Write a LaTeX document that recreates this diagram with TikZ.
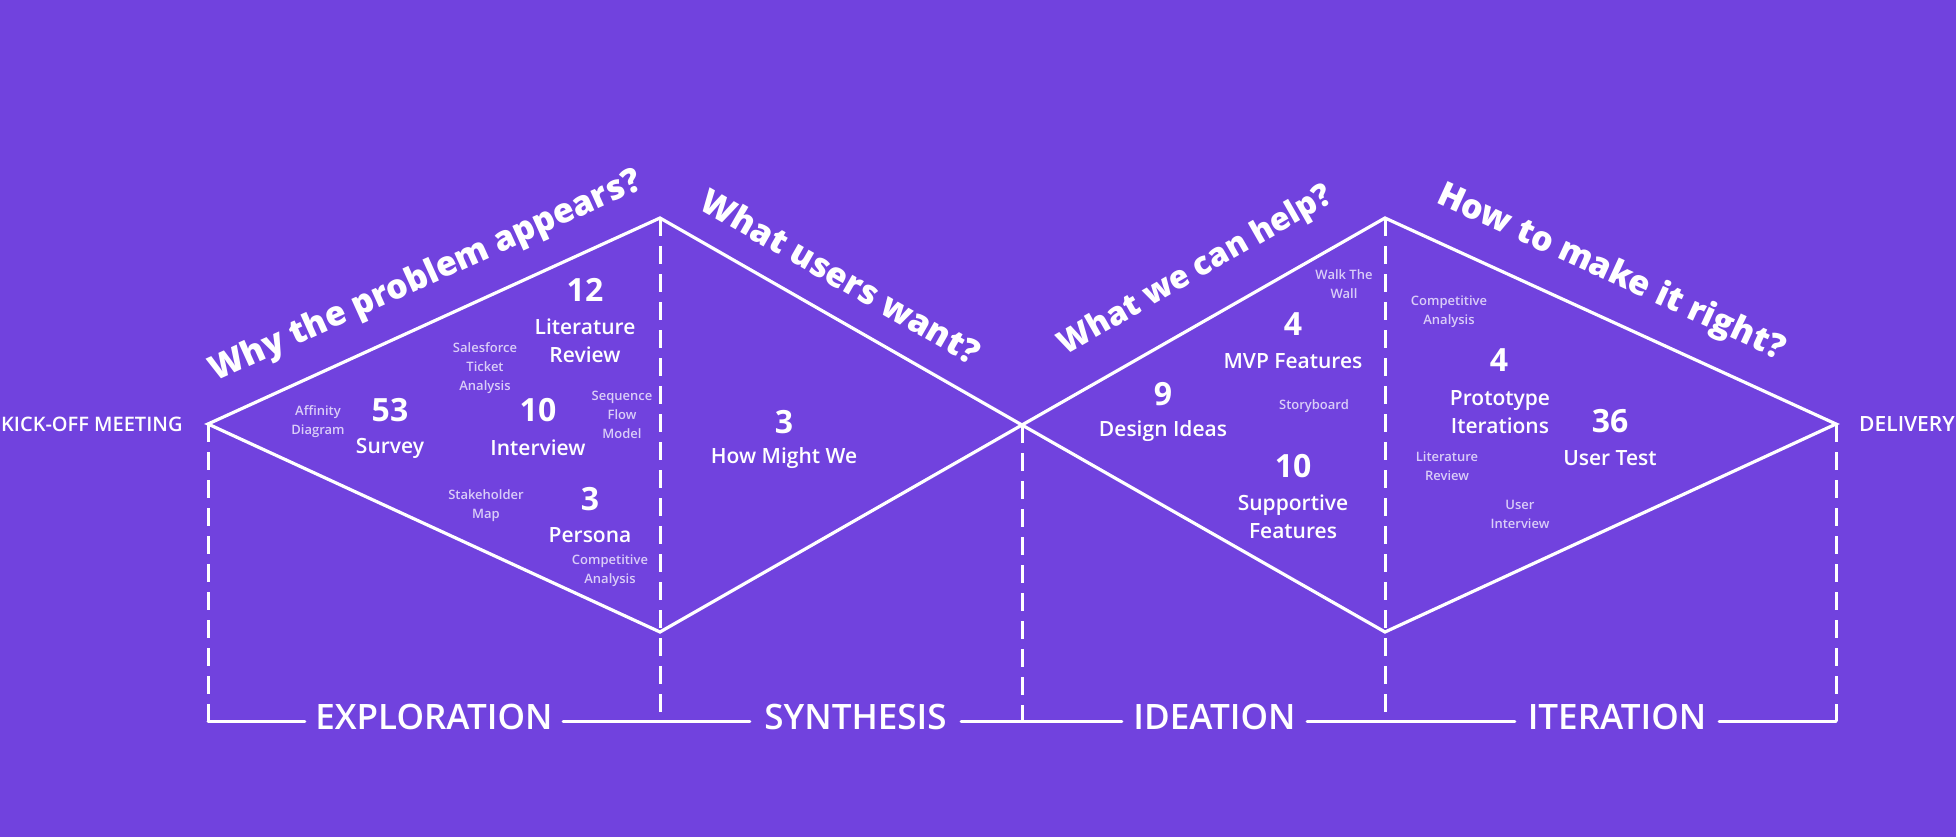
\documentclass[tikz,border=0pt]{standalone}
\usepackage{fontspec}
\setmainfont{Open Sans}
\IfFontExistsTF{Open Sans SemiBold}{\newfontfamily\sbf{Open Sans SemiBold}}{%
  \IfFontExistsTF{Open Sans Semibold}{\newfontfamily\sbf{Open Sans Semibold}}{\newcommand\sbf{\bfseries}}}
\IfFontExistsTF{Open Sans ExtraBold}{\newfontfamily\xbf{Open Sans ExtraBold}\newcommand\qsize{34}}{%
  \IfFontExistsTF{Open Sans Extrabold}{\newfontfamily\xbf{Open Sans Extrabold}\newcommand\qsize{34}}{\newcommand\xbf{\bfseries}\newcommand\qsize{35}}}
\definecolor{bgpurple}{RGB}{113,66,222}
\definecolor{lav}{RGB}{218,205,248}
\tikzset{
  edge/.style={white, line width=3.2pt, line join=miter},
  dashline/.style={white, line width=3pt, dash pattern=on 18pt off 10pt},
  base/.style={white, line width=3pt, line cap=round},
  question/.style={white, inner sep=0pt, font=\xbf\fontsize{\qsize}{\qsize}\selectfont},
  num/.style={white, inner sep=0pt, text depth=0pt, font=\bfseries\fontsize{32}{32}\selectfont},
  lab/.style={white, inner sep=0pt, align=center, font=\sbf\fontsize{21}{28}\selectfont},
  small/.style={lav, inner sep=0pt, align=center, font=\sbf\fontsize{13}{19}\selectfont},
  phase/.style={white, inner sep=0pt, text depth=0pt, font=\sbf\fontsize{35}{35}\selectfont},
  endlab/.style={white, inner sep=0pt, text depth=0pt, font=\sbf\fontsize{21}{21}\selectfont}
}
\begin{document}
\begin{tikzpicture}[x=1pt,y=-1pt]
\fill[bgpurple] (0,0) rectangle (1956,837);
\useasboundingbox (0,0) rectangle (1956,837);

% vertices
\coordinate (L) at (208,424);
\coordinate (T1) at (660,218);
\coordinate (B1) at (660,632);
\coordinate (M) at (1022,425);
\coordinate (T2) at (1385,218);
\coordinate (B2) at (1385,632);
\coordinate (R) at (1836,424);
\coordinate (BL) at (208,721);
\coordinate (BR) at (1836,721);
\coordinate (D1) at (660,721);
\coordinate (DM) at (1022,721);
\coordinate (D2) at (1385,721);

% diamonds
\draw[edge] (L) -- (T1) -- (M) -- (B1) -- cycle;
\draw[edge] (M) -- (T2) -- (R) -- (B2) -- cycle;

% dashed verticals
\draw[dashline] (L) -- (BL);
\draw[dashline] (T1) -- (D1);
\draw[dashline] (M) -- (DM);
\draw[dashline] (T2) -- (D2);
\draw[dashline] (R) -- (BR);

% phase labels
\node[phase, minimum width=258pt] (explo) at (434,717) {EXPLORATION};
\node[phase, minimum width=211pt] (synth) at (855.5,717) {SYNTHESIS};
\node[phase, minimum width=185pt] (ideat) at (1214.5,717) {IDEATION};
\node[phase, minimum width=204pt] (iter) at (1617,717) {ITERATION};

\draw[base] (BL) -- (BL -| explo.west);
\draw[base] (BL -| explo.east) -- (BL -| synth.west);
\draw[base] (BL -| synth.east) -- (BL -| ideat.west);
\draw[base] (BL -| ideat.east) -- (BL -| iter.west);
\draw[base] (BL -| iter.east) -- (BR);

% end labels
\node[endlab, anchor=west, font=\sbf\fontsize{20}{20}\selectfont] (kick) at (1,424) {KICK-OFF MEETING};
\node[endlab] (deliv) at (1907,424) {DELIVERY};

% questions
\node[question, rotate=24.3] (q1) at (426,277) {Why the problem appears?};
\node[question, rotate=-29.8] (q2) at (841,276) {What users want?};
\node[question, rotate=29.76, font=\xbf\fontsize{32}{32}\selectfont] (q3) at (1196,271) {What we can help?};
\node[question, rotate=-24.65] (q4) at (1611,273) {How to make it right?};

% exploration
\node[num] (n12) at (585,290) {12};
\node[lab] (lLit) at (585,341) {Literature\\Review};
\node[small] (sSales) at (485,368) {Salesforce\\Ticket\\Analysis};
\node[small] (sAff) at (318,422) {Affinity\\Diagram};
\node[num] (n53) at (390,410) {53};
\node[lab] (lSurvey) at (390,448) {Survey};
\node[num] (n10a) at (538,410) {10};
\node[lab] (lInt) at (538,448) {Interview};
\node[small] (sSeq) at (622,415) {Sequence\\Flow\\Model};
\node[small] (sStake) at (486,506) {Stakeholder\\Map};
\node[num] (n3a) at (590,499) {3};
\node[lab] (lPersona) at (590,535) {Persona};
\node[small] (sComp1) at (610,571) {Competitive\\Analysis};

% synthesis
\node[num] (n3b) at (784,422) {3};
\node[lab] (lHMW) at (784,458) {How Might We};

% ideation
\node[small] (sWalk) at (1344,284.5) {Walk The\\Wall};
\node[num] (n4a) at (1293,324) {4};
\node[lab] (lMVP) at (1293,361) {MVP Features};
\node[num] (n9) at (1163,394) {9};
\node[lab] (lDesign) at (1163,431) {Design Ideas};
\node[small] (sStory) at (1314,406) {Storyboard};
\node[num] (n10b) at (1293,466) {10};
\node[lab] (lSupp) at (1293,517) {Supportive\\Features};

% iteration
\node[small] (sComp2) at (1449,311.5) {Competitive\\Analysis};
\node[small] (sLit2) at (1447,466.5) {Literature\\Review};
\node[num] (n4b) at (1499,360) {4};
\node[lab] (lProto) at (1500,412) {Prototype\\Iterations};
\node[num] (n36) at (1610,421) {36};
\node[lab] (lUT) at (1610,458) {User Test};
\node[small] (sUI) at (1520,514.5) {User\\Interview};
\end{tikzpicture}
\end{document}
